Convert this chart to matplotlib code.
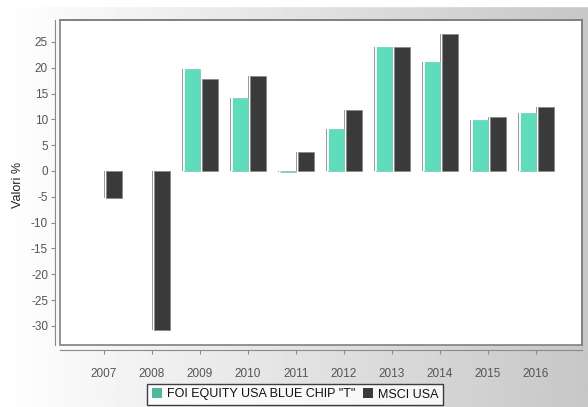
import numpy as np
import matplotlib
matplotlib.use("Agg")
import matplotlib.pyplot as plt
from matplotlib.patches import Rectangle, Patch

years = ["2007", "2008", "2009", "2010", "2011", "2012", "2013", "2014", "2015", "2016"]
fund = [np.nan, np.nan, 19.8, 14.1, -0.2, 8.2, 24.0, 21.2, 9.9, 11.2]
index = [-5.3, -30.8, 17.8, 18.4, 3.6, 11.8, 24.1, 26.5, 10.5, 12.4]
yticks = [-30, -25, -20, -15, -10, -5, 0, 5, 10, 15, 20, 25]
fund_name = 'FOI EQUITY USA BLUE CHIP "T"'
index_name = "MSCI USA"

plt.rcParams['font.family'] = ['Liberation Sans', 'DejaVu Sans']

W, H = 588, 407
fig = plt.figure(figsize=(W / 100, H / 100), dpi=100)

# background gradient
bg = fig.add_axes([0, 0, 1, 1], zorder=-10)
grad = np.linspace(1.0, 0.78, 256)
img = np.tile(grad, (64, 1))
bg.imshow(img, cmap='gray', vmin=0, vmax=1, aspect='auto', extent=[0, 1, 0, 1])
bg.add_patch(Rectangle((0, 1 - 6 / H), 1, 6 / H, color='white', transform=bg.transAxes))
bg.set_axis_off()

ax = fig.add_axes([60 / W, 62 / H, 522 / W, 325 / H])
ax.set_facecolor('white')

x = np.arange(len(years))
w = 0.375
teal = '#5fdcbb'
dark = '#3a3a3a'
fund_arr = np.array(fund, dtype=float)
idx_arr = np.array(index, dtype=float)
fm = ~np.isnan(fund_arr)

# shadow / edge strips
ax.bar(x[fm] - w, fund_arr[fm], width=0.03, align='edge', color='#9a9a9a', zorder=2)
ax.bar(x, idx_arr, width=0.03, align='edge', color='#9a9a9a', zorder=2)
# main bars
ax.bar(x[fm] - w / 2 + 0.02, fund_arr[fm], width=w - 0.04, color=teal,
       edgecolor='#7fcfb8', linewidth=0.6, zorder=3)
ax.bar(x + w / 2 + 0.02, idx_arr, width=w - 0.04, color=dark,
       edgecolor='#8a8a8a', linewidth=0.6, zorder=3)
# highlight strip
ax.bar(x[fm] - w + 0.035, fund_arr[fm], width=0.03, align='edge', color='#e8fff8', zorder=4)

ax.set_xlim(-0.917, 9.958)
ax.set_ylim(-33.72, 29.26)
ax.set_xticks(x)
ax.set_xticklabels(years)
ax.set_yticks(yticks)
ax.set_yticklabels([str(v) for v in yticks])

for s in ['top', 'right']:
    ax.spines[s].set_color('#808080')
    ax.spines[s].set_linewidth(1.2)
ax.spines['left'].set_position(('outward', 3.6))
ax.spines['bottom'].set_position(('outward', 3.6))
ax.spines['left'].set_color('#8a8a8a')
ax.spines['bottom'].set_color('#8a8a8a')
ax.add_patch(Rectangle((0, 0), 1, 1, transform=ax.transAxes, fill=False,
                       edgecolor='#808080', linewidth=1.2, zorder=5, clip_on=False))

ax.tick_params(axis='both', colors='#8a8a8a', labelcolor='#555555', labelsize=8.5, length=3)
ax.tick_params(axis='x', pad=10)
ax.tick_params(axis='y', pad=2)

fig.text(18 / W, 1 - 185 / H, 'Valori %', rotation=90, ha='center', va='center',
         fontsize=9, color='#222222')

handles = [Patch(facecolor='#4fb89a', edgecolor='none'), Patch(facecolor=dark, edgecolor='none')]
leg = fig.legend(handles, [fund_name, index_name], loc='upper center',
                 bbox_to_anchor=(295 / W, 1 - 384 / H), ncol=2, frameon=True,
                 fancybox=False, edgecolor='#111111', fontsize=9, handlelength=0.8,
                 handleheight=0.8, handletextpad=0.4, columnspacing=0.6,
                 borderpad=0.35, borderaxespad=0)
leg.get_frame().set_linewidth(1.0)
for t in leg.get_texts():
    t.set_color('#111111')

fig.savefig('out.png', dpi=100)
